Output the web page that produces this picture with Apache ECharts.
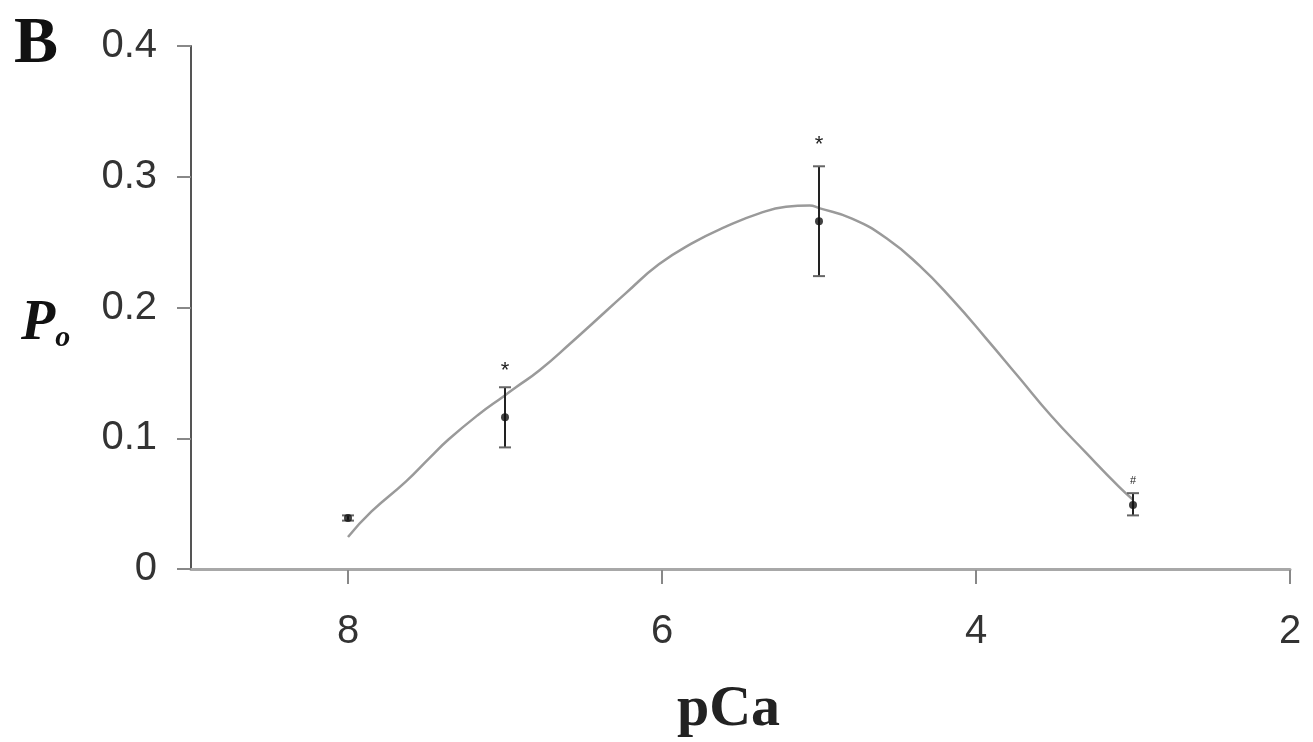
<!DOCTYPE html>
<html>
<head>
<meta charset="utf-8">
<script src="https://cdn.jsdelivr.net/npm/echarts@6/dist/echarts.min.js"></script>
<style>
html,body{margin:0;padding:0;background:#fff;}
#chart{width:1313px;height:742px;}
</style>
</head>
<body>
<div id="chart"></div>
<script>
// Measured points (pCa vs Po)
const pCa = [8, 7, 5, 3];
const poMean = [0.039, 0.116, 0.266, 0.049];
const poLow = [0.037, 0.093, 0.224, 0.041];
const poHigh = [0.041, 0.139, 0.308, 0.058];
const sigLabels = ['', '*', '*', '#'];

// Fitted curve
const fitX = [8.0, 7.85, 7.63, 7.48, 7.36, 7.17, 7.01, 6.93, 6.78, 6.57, 6.45, 6.23, 6.02, 5.81, 5.59, 5.38, 5.21, 5.06, 5.0, 4.79, 4.57, 4.36, 4.15, 3.94, 3.73, 3.52, 3.30, 3.09, 3.0];
const fitY = [0.0245, 0.044, 0.067, 0.085, 0.099, 0.118, 0.132, 0.139, 0.152, 0.174, 0.187, 0.211, 0.233, 0.249, 0.262, 0.272, 0.277, 0.278, 0.276, 0.268, 0.253, 0.232, 0.206, 0.177, 0.147, 0.117, 0.089, 0.063, 0.053];

const xTicks = [8, 6, 4, 2];

const chart = echarts.init(document.getElementById('chart'), null, {renderer: 'canvas'});

const errData = pCa.map((x, i) => [x, poMean[i], poLow[i], poHigh[i]]);
const pointData = pCa.map((x, i) => [x, poMean[i]]);
const fitData = fitX.map((x, i) => [x, fitY[i]]);

const option = {
  backgroundColor: '#ffffff',
  animation: false,
  grid: {left: 191, right: 23, top: 46, bottom: 173, containLabel: false, outerBoundsMode: 'none'},
  xAxis: {
    type: 'value',
    inverse: true,
    min: 2, max: 9, interval: 2,
    splitLine: {show: false},
    axisLine: {lineStyle: {color: '#a8a8a8', width: 3}},
    axisTick: {show: false},
    axisLabel: {
      margin: 43,
      fontFamily: 'Liberation Sans',
      fontSize: 40,
      color: '#333',
      formatter: v => (xTicks.indexOf(v) >= 0 ? String(v) : '')
    },
    name: 'pCa',
    nameLocation: 'middle',
    nameGap: 112,
    nameTextStyle: {
      fontFamily: 'Liberation Serif',
      fontWeight: 'bold',
      fontSize: 58,
      color: '#222',
      padding: [0, 24, 0, 0]
    }
  },
  yAxis: {
    type: 'value',
    min: 0, max: 0.4, interval: 0.1,
    splitLine: {show: false},
    axisLine: {show: true, lineStyle: {color: '#555', width: 2}},
    axisTick: {show: true, length: 14, lineStyle: {color: '#888', width: 2}},
    axisLabel: {
      margin: 34,
      fontFamily: 'Liberation Sans',
      fontSize: 40,
      color: '#333',
      formatter: v => (v === 0 ? '0' : v.toFixed(1))
    }
  },
  graphic: [
    {type: 'text', left: 14, top: 12,
     style: {text: 'B', font: 'bold 66px "Liberation Serif"', fill: '#111'}},
    {type: 'text', left: 21, top: 297,
     style: {
       text: '{P|P}{o|o}',
       rich: {
         P: {font: 'bold italic 56px "Liberation Serif"', fill: '#111'},
         o: {font: 'bold italic 30px "Liberation Serif"', fill: '#111', verticalAlign: 'bottom', padding: [26, 0, 0, 0]}
       }
     }}
  ],
  series: [
    {
      type: 'line',
      data: fitData,
      smooth: 0.5,
      showSymbol: false,
      lineStyle: {color: '#9a9a9a', width: 2.5},
      z: 2
    },
    {
      type: 'custom',
      data: xTicks.map(x => [x, 0]),
      renderItem: (params, api) => {
        const p = api.coord([api.value(0), 0]);
        return {type: 'line', shape: {x1: p[0], y1: p[1] + 1, x2: p[0], y2: p[1] + 15},
          style: {stroke: '#888', lineWidth: 2}};
      },
      z: 1
    },
    {
      type: 'custom',
      data: errData,
      renderItem: (params, api) => {
        const x = api.value(0);
        const pl = api.coord([x, api.value(2)]);
        const ph = api.coord([x, api.value(3)]);
        const cw = 6;
        const children = [
          {type: 'line', shape: {x1: pl[0], y1: pl[1], x2: ph[0], y2: ph[1]}, style: {stroke: '#222', lineWidth: 2}},
          {type: 'line', shape: {x1: pl[0] - cw, y1: pl[1], x2: pl[0] + cw, y2: pl[1]}, style: {stroke: '#666', lineWidth: 2}},
          {type: 'line', shape: {x1: ph[0] - cw, y1: ph[1], x2: ph[0] + cw, y2: ph[1]}, style: {stroke: '#666', lineWidth: 2}}
        ];
        const s = sigLabels[params.dataIndex];
        if (s) {
          const small = s === '#';
          const off = small ? 12 : (params.dataIndex === 2 ? 21 : 16);
          children.push({type: 'text', x: ph[0], y: ph[1] - off,
            style: {text: s, font: (small ? '11px' : '22px') + ' "Liberation Sans"', fill: '#222', align: 'center', verticalAlign: 'middle'}});
        }
        return {type: 'group', children};
      },
      z: 3
    },
    {
      type: 'scatter',
      data: pointData,
      symbol: 'circle',
      symbolSize: 8,
      itemStyle: {color: '#111'},
      z: 4
    }
  ]
};
chart.setOption(option);
</script>
</body>
</html>
